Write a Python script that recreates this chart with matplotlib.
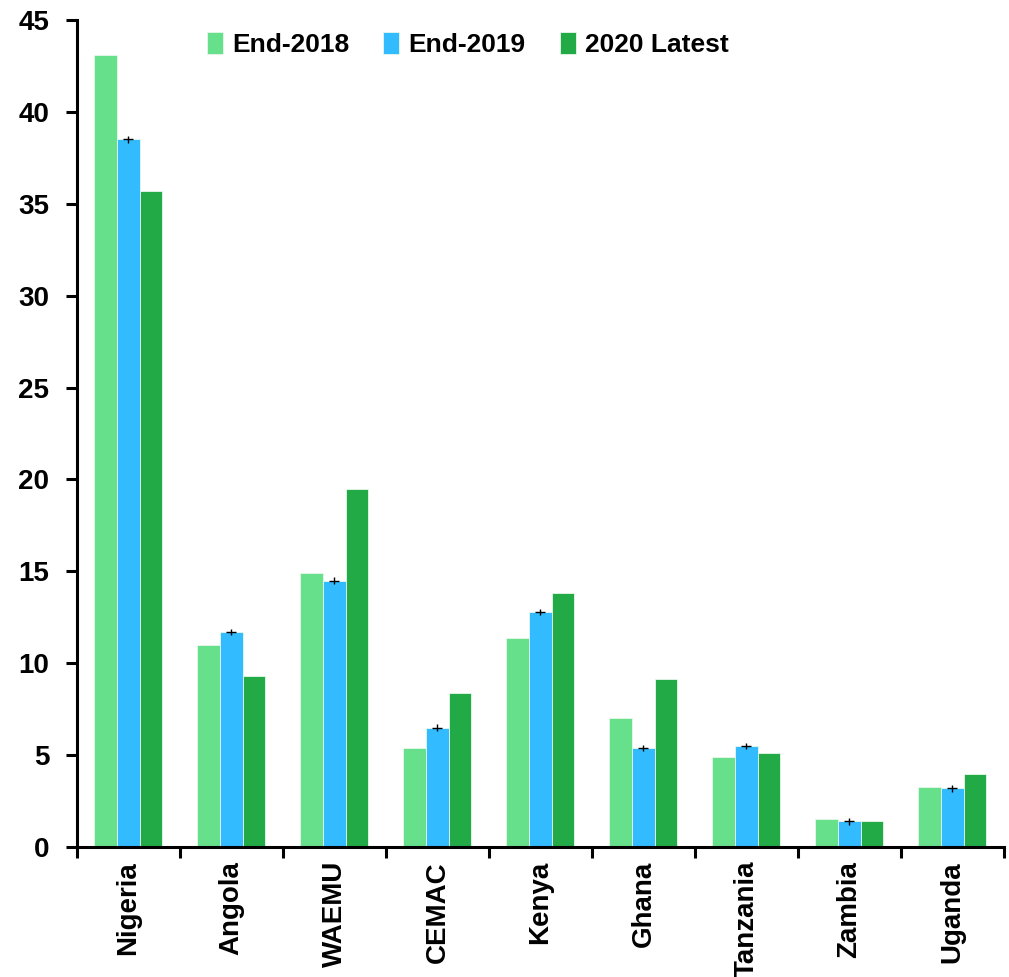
import matplotlib
matplotlib.use('Agg')
import matplotlib.pyplot as plt
import numpy as np

# data
countries = ['Nigeria', 'Angola', 'WAEMU', 'CEMAC', 'Kenya',
             'Ghana', 'Tanzania', 'Zambia', 'Uganda']
end_2018 = [43.1, 11.0, 14.9, 5.4, 11.4, 7.0, 4.9, 1.55, 3.25]
end_2019 = [38.5, 11.7, 14.5, 6.5, 12.8, 5.4, 5.5, 1.4, 3.2]
latest_2020 = [35.7, 9.3, 19.5, 8.4, 13.8, 9.15, 5.1, 1.4, 3.95]
err_2019 = 0.18

series_names = ['End-2018', 'End-2019', '2020 Latest']
colors = ['#66E08A', '#33BBFF', '#22AA46']

fonts = ['Liberation Sans Narrow', 'Liberation Sans', 'DejaVu Sans']

fig = plt.figure(figsize=(10.09, 9.77), dpi=100)
ax = fig.add_axes([0.0763, 0.133, 0.9187, 0.8465])

x = np.arange(len(countries))
w = 0.22
for i, (vals, name, col) in enumerate(zip([end_2018, end_2019, latest_2020], series_names, colors)):
    ax.bar(x + (i - 1) * w, vals, width=w, color=col, label=name,
           edgecolor='#e8f8ec', linewidth=0.6)

ax.errorbar(x, end_2019, yerr=err_2019, fmt='_', color='black',
            markersize=7, elinewidth=1.0, markeredgewidth=1.0)

ax.set_xlim(-0.5, len(countries) - 0.5)
ax.set_ylim(0, 45)
ax.set_yticks(np.arange(0, 46, 5))

ax.set_xticks(x)
ax.set_xticklabels(countries, rotation=90, fontsize=20, fontweight='bold', family=fonts)
ax.set_xticks(np.arange(-0.5, len(countries), 1), minor=True)
ax.tick_params(axis='x', which='major', length=0, pad=10)
ax.tick_params(axis='x', which='minor', length=8, width=2.2, direction='out')
ax.tick_params(axis='y', length=8, width=2.2, direction='out', pad=12)
for lab in ax.get_yticklabels():
    lab.set_fontsize(20)
    lab.set_fontweight('bold')
    lab.set_family(fonts)

for s in ['top', 'right']:
    ax.spines[s].set_visible(False)
for s in ['left', 'bottom']:
    ax.spines[s].set_linewidth(2.2)

leg = ax.legend(loc='upper left', bbox_to_anchor=(0.140, 0.986), ncol=3, frameon=False,
                handlelength=0.6, handleheight=0.9, handletextpad=0.35, columnspacing=1.3,
                borderaxespad=0, borderpad=0,
                prop={'family': fonts, 'weight': 'bold', 'size': 19})

fig.savefig('out.png', dpi=100)
